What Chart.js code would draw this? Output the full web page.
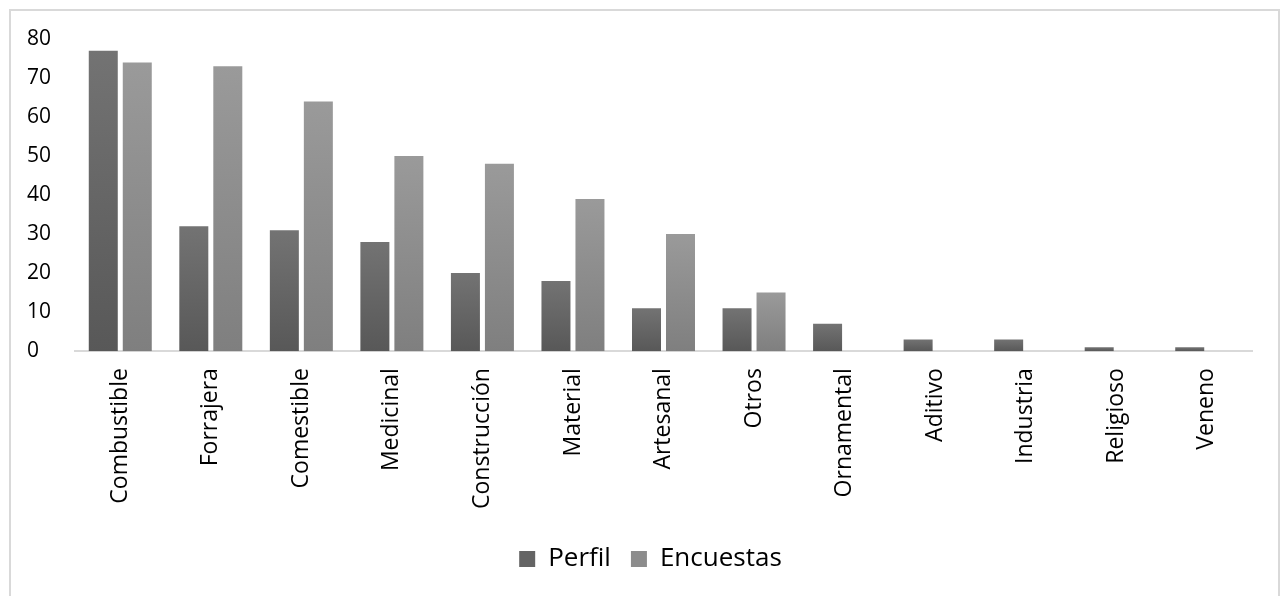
<!DOCTYPE html>
<html>
<head>
<meta charset="utf-8">
<script src="https://cdn.jsdelivr.net/npm/chart.js@4.4.1/dist/chart.umd.min.js"></script>
<style>
  html, body { margin: 0; padding: 0; background: #fff; }
  #wrap { position: relative; width: 1281px; height: 596px; overflow: hidden; }
  #frame {
    position: absolute; left: 9px; top: 9px; width: 1271px; height: 640px;
    box-sizing: border-box; border: 2px solid #d9d9d9; pointer-events: none;
  }
  canvas { position: absolute; left: 0; top: 0; }
</style>
</head>
<body>
<div id="wrap">
  <canvas id="usosChart" width="1281" height="596"></canvas>
  <div id="frame"></div>
</div>
<script>
// uses of species: counts from the profile vs. from the surveys
const categories = ['Combustible', 'Forrajera', 'Comestible', 'Medicinal', 'Construcción', 'Material',
  'Artesanal', 'Otros', 'Ornamental', 'Aditivo', 'Industria', 'Religioso', 'Veneno'];
const perfil = [77, 32, 31, 28, 20, 18, 11, 11, 7, 3, 3, 1, 1];
const encuestas = [74, 73, 64, 50, 48, 39, 30, 15, 0, 0, 0, 0, 0];
const yTicks = [0, 10, 20, 30, 40, 50, 60, 70, 80];

// vertical gradient per bar, lighter at the top
const barFill = (top, bottom) => (ctx) => {
  const chart = ctx.chart;
  if (!chart.chartArea || ctx.type !== 'data' || !ctx.parsed) return bottom;
  const y = chart.scales.y;
  const yTop = y.getPixelForValue(ctx.parsed.y);
  const yBase = y.getPixelForValue(0);
  if (!isFinite(yTop) || yBase - yTop < 1) return bottom;
  const g = chart.ctx.createLinearGradient(0, yTop, 0, yBase);
  g.addColorStop(0, top);
  g.addColorStop(1, bottom);
  return g;
};

const legendColors = ['#646464', '#8c8c8c'];

// centre the legend on the whole frame, not just under the plot area
const legendShift = {
  id: 'legendShift',
  afterLayout(chart) {
    const lg = chart.legend;
    if (!lg) return;
    lg.left = 0;
    lg.right = chart.width + 20;
    lg.width = lg.right - lg.left;
  }
};

new Chart(document.getElementById('usosChart').getContext('2d'), {
  type: 'bar',
  data: {
    labels: categories,
    datasets: [
      { label: 'Perfil', data: perfil, backgroundColor: barFill('#737373', '#585858') },
      { label: 'Encuestas', data: encuestas, backgroundColor: barFill('#9a9a9a', '#7f7f7f') }
    ]
  },
  plugins: [legendShift],
  options: {
    responsive: false,
    animation: false,
    categoryPercentage: 0.751,
    barPercentage: 0.853,
    layout: { padding: { left: 27, right: 29, top: 39, bottom: 14 } },
    plugins: {
      tooltip: { enabled: false },
      legend: {
        position: 'bottom',
        labels: {
          color: '#000',
          font: { family: 'Open Sans', size: 26 },
          boxWidth: 16,
          boxHeight: 16,
          padding: 20,
          generateLabels: (chart) => chart.data.datasets.map((ds, i) => ({
            text: ds.label,
            fillStyle: legendColors[i],
            strokeStyle: legendColors[i],
            lineWidth: 0,
            datasetIndex: i,
            hidden: false
          }))
        }
      }
    },
    scales: {
      x: {
        grid: { display: false, drawTicks: false },
        border: { display: true, color: '#d9d9d9', width: 2 },
        ticks: {
          color: '#000',
          font: { family: 'Open Sans', size: 23 },
          minRotation: 90,
          maxRotation: 90,
          padding: 17,
          autoSkip: false
        }
      },
      y: {
        min: 0,
        max: 80,
        grid: { display: false, drawTicks: false },
        border: { display: false },
        afterFit: (scale) => { scale.width = 48; },
        afterBuildTicks: (scale) => { scale.ticks = yTicks.map(v => ({ value: v })); },
        ticks: {
          color: '#000',
          font: { family: 'Open Sans', size: 21 },
          crossAlign: 'far',
          padding: 0
        }
      }
    }
  }
});
</script>
</body>
</html>
